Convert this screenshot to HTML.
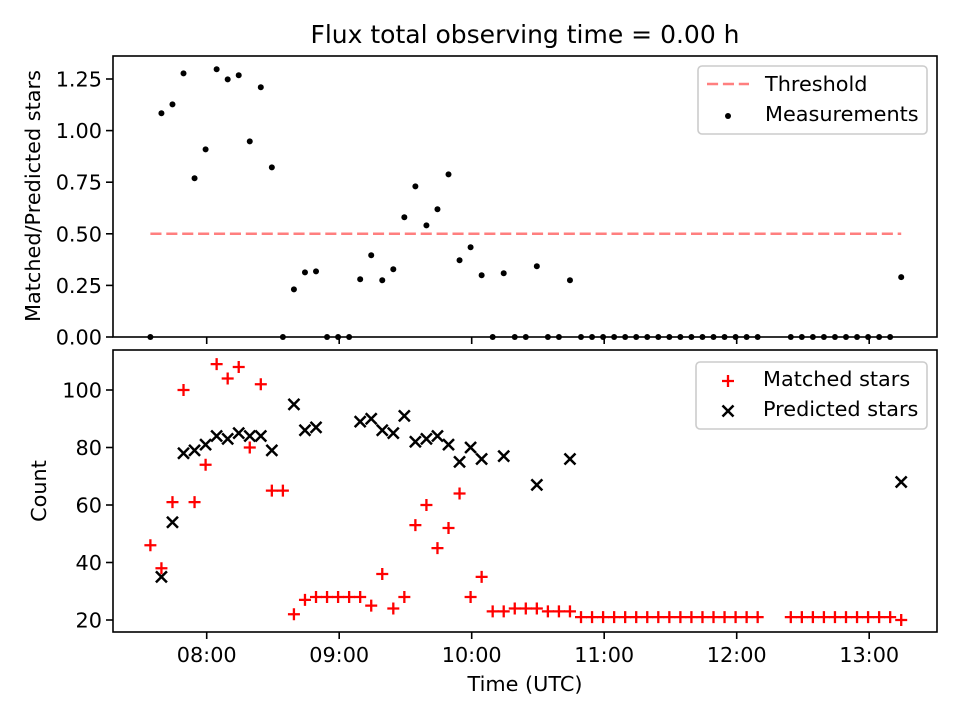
<!DOCTYPE html>
<html><head><meta charset="utf-8"><style>
html,body{margin:0;padding:0;background:#fff;}
svg{display:block;font-family:"DejaVu Sans","Liberation Sans",sans-serif;}
</style></head><body>
<svg id="chart" width="960" height="720" viewBox="0 0 960 720" xmlns="http://www.w3.org/2000/svg">
<rect width="960" height="720" fill="#fff"/>
<text x="525" y="43" text-anchor="middle" font-size="25">Flux total observing time = 0.00 h</text>
<g id="topAxes"></g>
<g id="bottomAxes"></g>
<text transform="translate(40,196) rotate(-90)" text-anchor="middle" font-size="20.8">Matched/Predicted stars</text>
<text transform="translate(46,491) rotate(-90)" text-anchor="middle" font-size="20.8">Count</text>
<text x="525" y="691" text-anchor="middle" font-size="20.8">Time (UTC)</text>
</svg>
<script>
const sampleIndex = [0,1,2,3,4,5,6,7,8,9,10,11,12,13,14,15,16,17,18,19,20,21,22,23,24,25,26,27,28,29,30,31,32,33,34,35,36,37,38,39,40,41,42,43,44,45,46,47,48,49,50,51,52,53,54,55,58,59,60,61,62,63,64,65,66,67,68];
const ratioValues = [0,1.084,1.127,1.277,0.769,0.909,1.297,1.248,1.268,0.948,1.210,0.822,0,0.231,0.313,0.318,0,0,0,0.280,0.396,0.275,0.328,0.580,0.730,0.541,0.619,0.788,0.372,0.435,0.299,0,0.309,0,0,0.343,0,0,0.275,0,0,0,0,0,0,0,0,0,0,0,0,0,0,0,0,0,0,0,0,0,0,0,0,0,0,0,0.29];
const matchedValues = [46,38,61,100,61,74,109,104,108,80,102,65,65,22,27,28,28,28,28,28,25,36,24,28,53,60,45,52,64,28,35,23,23,24,24,24,23,23,23,21,21,21,21,21,21,21,21,21,21,21,21,21,21,21,21,21,21,21,21,21,21,21,21,21,21,21,20];
const predictedValues = [null,35,54,78,79,81,84,83,85,84,84,79,null,95,86,87,null,null,null,89,90,86,85,91,82,83,84,81,75,80,76,null,77,null,null,67,null,null,76,null,null,null,null,null,null,null,null,null,null,null,null,null,null,null,null,null,null,null,null,null,null,null,null,null,null,null,68];
const thresholdValue = 0.5;
const xTickMinutes = [60,120,180,240,300,360];
const xTickLabels = ["08:00","09:00","10:00","11:00","12:00","13:00"];
const topTicks = [0,0.25,0.5,0.75,1.0,1.25];
const topTickLabels = ["0.00","0.25","0.50","0.75","1.00","1.25"];
const bottomTicks = [20,40,60,80,100];
const bottomTickLabels = ["20","40","60","80","100"];
const startMinute = 34.5, stepMinutes = 5;

const NS = "http://www.w3.org/2000/svg";
const L = 113, R = 937;
const TT = 56, TB = 337, BT = 350, BB = 632;
const xScale = m => 206.7 + (m - 60) * 2.2083;
const yTop = v => 337 - v * 206.4;
const yBot = v => 620 - (v - 20) * 2.875;
const tOf = i => startMinute + stepMinutes * i;

function el(parent, tag, attrs, text) {
  const e = document.createElementNS(NS, tag);
  for (const k in attrs) e.setAttribute(k, attrs[k]);
  if (text !== undefined) e.textContent = text;
  parent.appendChild(e);
  return e;
}
const gTop = document.getElementById('topAxes');
const gBot = document.getElementById('bottomAxes');

const th = el(gTop, 'line', {x1: xScale(tOf(0)), x2: xScale(tOf(68)), y1: yTop(thresholdValue), y2: yTop(thresholdValue), stroke: '#ff7f7f', 'stroke-width': 2.5, 'stroke-dasharray': '11.1,4.8'});



sampleIndex.forEach((k, i) => {
  const c = el(gTop, 'circle', {cx: xScale(tOf(k)), cy: yTop(ratioValues[i]), r: 3, fill: '#000'});
  
  
});

sampleIndex.forEach((k, i) => {
  const cx = xScale(tOf(k)), cy = yBot(matchedValues[i]);
  const p = el(gBot, 'path', {d: `M${cx-6},${cy}H${cx+6}M${cx},${cy-6}V${cy+6}`, stroke: '#ff0000', 'stroke-width': 2.3, fill: 'none'});
  
  
});
sampleIndex.forEach((k, i) => {
  const v = predictedValues[i];
  if (v === null) return;
  const cx = xScale(tOf(k)), cy = yBot(v), s = 5.5;
  const p = el(gBot, 'path', {d: `M${cx-s},${cy-s}L${cx+s},${cy+s}M${cx-s},${cy+s}L${cx+s},${cy-s}`, stroke: '#000', 'stroke-width': 2.5, fill: 'none'});
  
  
});

[[gTop, TT, TB, 'top-axes-frame'], [gBot, BT, BB, 'bottom-axes-frame']].forEach(([g, t, b, n]) => {
  const f = el(g, 'rect', {x: L, y: t, width: R - L, height: b - t, fill: 'none', stroke: '#000', 'stroke-width': 1.6});
  
  
});

xTickMinutes.forEach((m, i) => {
  const xx = xScale(m);
  const t1 = el(gTop, 'line', {x1: xx, x2: xx, y1: TB, y2: TB + 7, stroke: '#000', 'stroke-width': 1.6});
  
  
  const t2 = el(gBot, 'line', {x1: xx, x2: xx, y1: BB, y2: BB + 7, stroke: '#000', 'stroke-width': 1.6});
  
  
  const lb = el(gBot, 'text', {x: xx, y: BB + 30, 'text-anchor': 'middle', 'font-size': 20.8}, xTickLabels[i]);
  
  
});
topTicks.forEach((v, i) => {
  const yy = yTop(v);
  const t = el(gTop, 'line', {x1: L - 7, x2: L, y1: yy, y2: yy, stroke: '#000', 'stroke-width': 1.6});
  
  
  const lb = el(gTop, 'text', {x: L - 11, y: yy + 7.5, 'text-anchor': 'end', 'font-size': 20.8}, topTickLabels[i]);
  
  
});
bottomTicks.forEach((v, i) => {
  const yy = yBot(v);
  const t = el(gBot, 'line', {x1: L - 7, x2: L, y1: yy, y2: yy, stroke: '#000', 'stroke-width': 1.6});
  
  
  const lb = el(gBot, 'text', {x: L - 11, y: yy + 7.5, 'text-anchor': 'end', 'font-size': 20.8}, bottomTickLabels[i]);
  
  
});

const lg1 = el(gTop, 'rect', {x: 698, y: 66, width: 229, height: 68, rx: 4, fill: '#fff', 'fill-opacity': 0.8, stroke: '#ccc', 'stroke-width': 1.6});


const ll = el(gTop, 'line', {x1: 707, x2: 749, y1: 84, y2: 84, stroke: '#ff7f7f', 'stroke-width': 2.5, 'stroke-dasharray': '11.1,4.8'});


const lt1 = el(gTop, 'text', {x: 765, y: 91, 'font-size': 20.8}, 'Threshold');


const lc = el(gTop, 'circle', {cx: 728, cy: 116, r: 3, fill: '#000'});


const lt2 = el(gTop, 'text', {x: 765, y: 121, 'font-size': 20.8}, 'Measurements');



const lg2 = el(gBot, 'rect', {x: 696, y: 362, width: 231, height: 67, rx: 4, fill: '#fff', 'fill-opacity': 0.8, stroke: '#ccc', 'stroke-width': 1.6});


const lp = el(gBot, 'path', {d: 'M722,381H734M728,375V387', stroke: '#ff0000', 'stroke-width': 2.3});


const lt3 = el(gBot, 'text', {x: 763, y: 386, 'font-size': 20.8}, 'Matched stars');


const lx = el(gBot, 'path', {d: 'M722.5,405.5L733.5,416.5M722.5,416.5L733.5,405.5', stroke: '#000', 'stroke-width': 2.5});


const lt4 = el(gBot, 'text', {x: 763, y: 416, 'font-size': 20.8}, 'Predicted stars');


</script>
</body></html>
